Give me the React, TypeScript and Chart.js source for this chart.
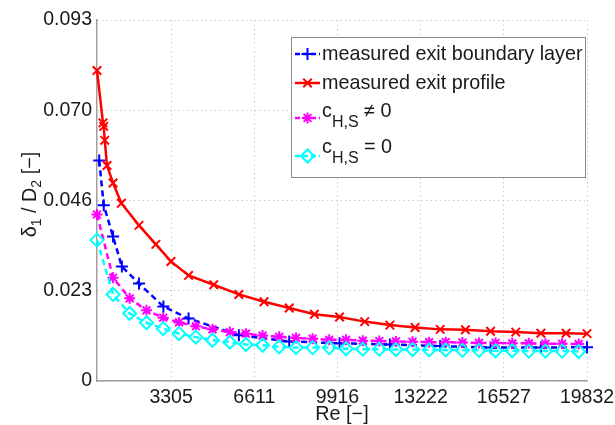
import React, { useEffect, useRef } from 'react';
import { Chart, registerables } from 'chart.js';

Chart.register(...registerables);

// ---------------- data ----------------
const RE_BOUNDARY = [450, 630, 1000, 1350, 2030, 3000, 4000, 6000, 8000, 10000, 12000, 14000, 16000, 18000, 19832];
const DELTA_BOUNDARY = [0.0568, 0.0453, 0.0372, 0.0295, 0.0251, 0.0192, 0.0161, 0.0118, 0.0102, 0.0097, 0.0094, 0.0090, 0.0086, 0.0086, 0.0087];

const RE_PROFILE = [362, 600, 630, 670, 760, 1000, 1330, 2030, 2700, 3300, 4000, 5000, 6000, 7000, 8000, 9000, 10000, 11000, 12000, 13000, 14000, 15000, 16000, 17000, 18000, 19000, 19832];
const DELTA_PROFILE = [0.0800, 0.0665, 0.0656, 0.0620, 0.0555, 0.0510, 0.0458, 0.0401, 0.0352, 0.0308, 0.0272, 0.0248, 0.0223, 0.0204, 0.0188, 0.0172, 0.0165, 0.0153, 0.0144, 0.0138, 0.0133, 0.0132, 0.0128, 0.0126, 0.0123, 0.0123, 0.0122];

const RE_MODEL = [362, 1000, 1660, 2330, 2990, 3620, 4290, 4950, 5640, 6280, 6940, 7600, 8270, 8930, 9590, 10260, 10920, 11580, 12240, 12900, 13560, 14220, 14880, 15540, 16200, 16860, 17520, 18180, 18840, 19500];
const DELTA_CH_NONZERO = [0.0429, 0.0266, 0.0213, 0.0182, 0.0163, 0.0151, 0.0141, 0.0133, 0.0126, 0.0122, 0.0117, 0.0114, 0.0111, 0.0109, 0.0106, 0.0106, 0.0104, 0.0103, 0.0102, 0.0101, 0.0100, 0.0100, 0.0099, 0.0098, 0.0098, 0.0097, 0.0097, 0.0096, 0.0096, 0.0095];
const DELTA_CH_ZERO = [0.0363, 0.0223, 0.0174, 0.0150, 0.0135, 0.0122, 0.0113, 0.0105, 0.0100, 0.0094, 0.0092, 0.0088, 0.0086, 0.0086, 0.0086, 0.0083, 0.0082, 0.0082, 0.0081, 0.0081, 0.0080, 0.0080, 0.0079, 0.0079, 0.0078, 0.0078, 0.0077, 0.0077, 0.0077, 0.0076];

const X_MIN = 362;
const X_MAX = 19832;
const X_TICKS = [3305.33, 6610.67, 9916, 13221.33, 16526.67, 19832];
const X_TICK_LABELS = ['3305', '6611', '9916', '13222', '16527', '19832'];
const Y_MIN = 0;
const Y_MAX = 0.093;
const Y_TICKS = [0, 0.02325, 0.0465, 0.06975, 0.093];
const Y_TICK_LABELS = ['0', '0.023', '0.046', '0.070', '0.093'];

type Seg = { t: string; sub?: boolean };
const SERIES_LABELS: Seg[][] = [
  [{ t: 'measured exit boundary layer' }],
  [{ t: 'measured exit profile' }],
  [{ t: 'c' }, { t: 'H,S', sub: true }, { t: ' \u2260 0' }],
  [{ t: 'c' }, { t: 'H,S', sub: true }, { t: ' = 0' }],
];
const Y_TITLE: Seg[] = [{ t: '\u03B4' }, { t: '1', sub: true }, { t: ' / D' }, { t: '2', sub: true }, { t: ' [\u2212]' }];
const X_TITLE = 'Re [\u2212]';

// ---------------- styles ----------------
const FONT = "'Liberation Sans', Arial, Helvetica, sans-serif";
const TEXT = '#1a1a1a';
const BLUE = '#0000ff';
const RED = '#ff0000';
const MAGENTA = '#ff00ff';
const CYAN = '#00ffff';
const TICK_SIZE = 19.5;
const LABEL_SIZE = 19.8;
const SUB_SIZE = 16;

const SERIES_STYLE = [
  { color: BLUE, dash: [6, 4], marker: 'plus', r: 6 },
  { color: RED, dash: [] as number[], marker: 'x', r: 6 },
  { color: MAGENTA, dash: [6, 4], marker: 'star', r: 5.5 },
  { color: CYAN, dash: [6, 4], marker: 'diamond', r: 6.5 },
];

function drawRich(ctx: CanvasRenderingContext2D, segs: Seg[], x: number, y: number, size: number, subSize: number, subDy: number, measureOnly = false) {
  let cx = x;
  for (const s of segs) {
    ctx.font = `${s.sub ? subSize : size}px ${FONT}`;
    if (!measureOnly) ctx.fillText(s.t, cx, y + (s.sub ? subDy : 0));
    cx += ctx.measureText(s.t).width;
  }
  return cx - x;
}

function drawMarker(ctx: CanvasRenderingContext2D, kind: string, x: number, y: number, r: number, color: string) {
  ctx.save();
  ctx.setLineDash([]);
  ctx.strokeStyle = color;
  ctx.lineWidth = 2;
  ctx.beginPath();
  if (kind === 'plus' || kind === 'star') {
    ctx.moveTo(x - r, y); ctx.lineTo(x + r, y);
    ctx.moveTo(x, y - r); ctx.lineTo(x, y + r);
  }
  if (kind === 'x' || kind === 'star') {
    const d = r * Math.SQRT1_2;
    ctx.moveTo(x - d, y - d); ctx.lineTo(x + d, y + d);
    ctx.moveTo(x - d, y + d); ctx.lineTo(x + d, y - d);
  }
  if (kind === 'diamond') {
    ctx.moveTo(x, y - r); ctx.lineTo(x + r, y); ctx.lineTo(x, y + r); ctx.lineTo(x - r, y); ctx.closePath();
  }
  ctx.stroke();
  ctx.restore();
}

const annotationsPlugin = {
  id: 'matlabDecor',
  afterDraw(chart: any) {
    const ctx: CanvasRenderingContext2D = chart.ctx;
    const area = chart.chartArea;
    ctx.save();
    ctx.fillStyle = TEXT;
    ctx.textBaseline = 'alphabetic';
    ctx.textAlign = 'left';

    // x title
    ctx.font = `${LABEL_SIZE}px ${FONT}`;
    const xw = ctx.measureText(X_TITLE).width;
    ctx.fillText(X_TITLE, (area.left + area.right) / 2 - xw / 2, area.bottom + 39);

    // y title (rotated)
    ctx.save();
    ctx.translate(36, (area.top + area.bottom) / 2 - 6);
    ctx.rotate(-Math.PI / 2);
    const yw = drawRich(ctx, Y_TITLE, 0, 0, LABEL_SIZE, 14, 5, true);
    drawRich(ctx, Y_TITLE, -yw / 2, 0, LABEL_SIZE, 14, 5);
    ctx.restore();

    // legend box
    const bx = area.right - 296;
    const by = area.top + 17;
    const bw = 294;
    const bh = 140;
    ctx.fillStyle = '#ffffff';
    ctx.fillRect(bx, by, bw, bh);
    ctx.strokeStyle = '#8c8c8c';
    ctx.lineWidth = 1;
    ctx.strokeRect(bx + 0.5, by + 0.5, bw, bh);

    const lineYs = [17, 46, 81, 119];
    const baseYs = [23, 52, 80, 116];
    SERIES_LABELS.forEach((segs, i) => {
      const st = SERIES_STYLE[i];
      const ly = by + lineYs[i];
      ctx.save();
      ctx.strokeStyle = st.color;
      ctx.lineWidth = 2.5;
      ctx.setLineDash(st.dash.length ? [5, 3] : []);
      ctx.beginPath();
      ctx.moveTo(bx + 4, ly);
      ctx.lineTo(bx + 29, ly);
      ctx.stroke();
      ctx.restore();
      drawMarker(ctx, st.marker, bx + 16.5, ly, st.r, st.color);
      ctx.fillStyle = TEXT;
      drawRich(ctx, segs, bx + 31, by + baseYs[i], LABEL_SIZE, SUB_SIZE, 10);
    });
    ctx.restore();
  },
};

function toPoints(xs: number[], ys: number[]) {
  return xs.map((x, i) => ({ x, y: ys[i] }));
}

export default function App() {
  const canvasRef = useRef<HTMLCanvasElement | null>(null);

  useEffect(() => {
    if (!canvasRef.current) return;
    const gridCommon = { color: '#cdcdcd', lineWidth: 1, drawTicks: false };
    const borderCommon = { display: true, color: '#a0a0a0', width: 1.5, dash: [1.5, 3] };
    const chart = new Chart(canvasRef.current, {
      type: 'line',
      data: {
        datasets: [
          {
            label: 'measured exit boundary layer',
            data: toPoints(RE_BOUNDARY, DELTA_BOUNDARY),
            borderColor: BLUE, backgroundColor: BLUE, borderWidth: 2.5, borderDash: [6, 4],
            pointStyle: 'cross', pointRadius: 6, pointBorderWidth: 2, pointBorderColor: BLUE,
            order: 4, clip: false as any,
          },
          {
            label: 'measured exit profile',
            data: toPoints(RE_PROFILE, DELTA_PROFILE),
            borderColor: RED, backgroundColor: RED, borderWidth: 2.5,
            pointStyle: 'crossRot', pointRadius: 6, pointBorderWidth: 2, pointBorderColor: RED,
            order: 3, clip: false as any,
          },
          {
            label: 'c_H,S \u2260 0',
            data: toPoints(RE_MODEL, DELTA_CH_NONZERO),
            borderColor: MAGENTA, backgroundColor: MAGENTA, borderWidth: 2.5, borderDash: [6, 4],
            pointStyle: 'star', pointRadius: 5.5, pointBorderWidth: 2, pointBorderColor: MAGENTA,
            order: 2, clip: false as any,
          },
          {
            label: 'c_H,S = 0',
            data: toPoints(RE_MODEL, DELTA_CH_ZERO),
            borderColor: CYAN, backgroundColor: 'rgba(0,0,0,0)', borderWidth: 2.5, borderDash: [6, 4],
            pointStyle: 'rectRot', pointRadius: 6.5, pointBorderWidth: 2, pointBorderColor: CYAN,
            pointBackgroundColor: 'rgba(0,0,0,0)',
            order: 1, clip: false as any,
          },
        ],
      },
      options: {
        animation: false,
        responsive: false,
        devicePixelRatio: 1,
        events: [],
        layout: { padding: { top: 20, right: 28, left: 0, bottom: 0 } },
        plugins: { legend: { display: false }, tooltip: { enabled: false } },
        scales: {
          x: {
            type: 'linear',
            min: X_MIN,
            max: X_MAX,
            afterBuildTicks: (s: any) => { s.ticks = X_TICKS.map((v) => ({ value: v })); },
            afterFit: (s: any) => { s.height = 44; s.paddingLeft = 0; s.paddingRight = 0; },
            ticks: {
              autoSkip: false, maxRotation: 0, minRotation: 0, padding: 5, color: TEXT,
              font: { family: FONT, size: TICK_SIZE },
              callback: (_v: any, i: number) => X_TICK_LABELS[i],
            },
            grid: gridCommon,
            border: borderCommon,
          },
          y: {
            type: 'linear',
            min: Y_MIN,
            max: Y_MAX,
            afterBuildTicks: (s: any) => { s.ticks = Y_TICKS.map((v) => ({ value: v })); },
            afterFit: (s: any) => { s.width = 97; s.paddingTop = 0; s.paddingBottom = 0; },
            ticks: {
              autoSkip: false, padding: 5, color: TEXT,
              font: { family: FONT, size: TICK_SIZE },
              callback: (_v: any, i: number) => Y_TICK_LABELS[i],
            },
            grid: gridCommon,
            border: borderCommon,
          },
        },
      } as any,
      plugins: [annotationsPlugin],
    });
    return () => chart.destroy();
  }, []);

  return (
    <div style={{ position: 'fixed', left: 0, top: 0, width: 615, height: 425, background: '#fff' }}>
      <canvas ref={canvasRef} width={615} height={425} style={{ width: 615, height: 425, display: 'block' }} />
    </div>
  );
}
